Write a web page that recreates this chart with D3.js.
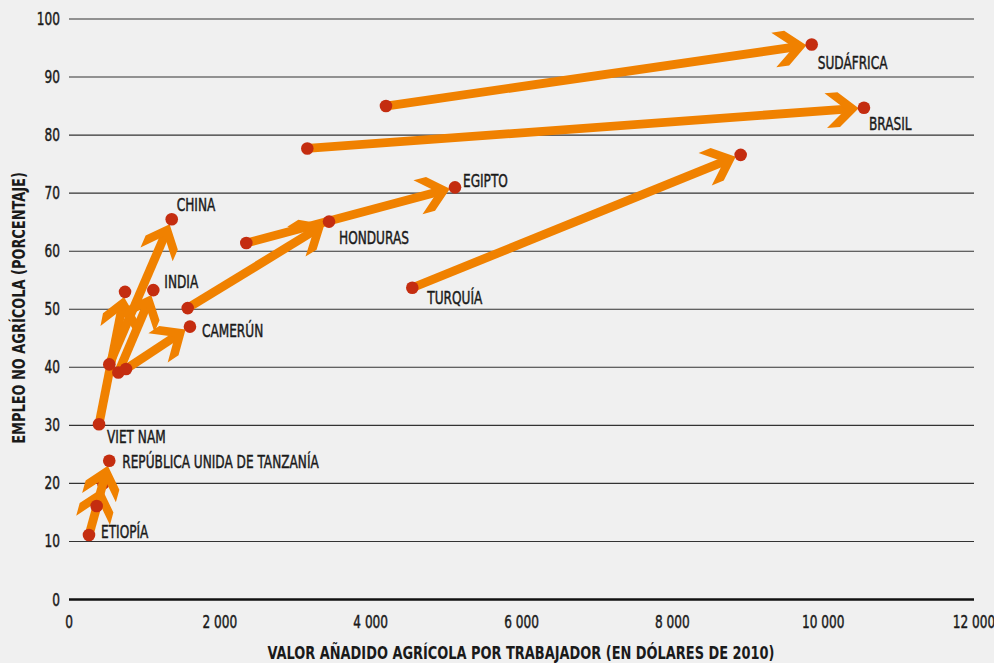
<!DOCTYPE html>
<html>
<head>
<meta charset="utf-8">
<script src="https://cdn.jsdelivr.net/npm/d3@7"></script>
<style>
    body { margin: 0; background: #f0f0f0; }
    svg { display: block; font-family: "Liberation Sans Narrow", "DejaVu Sans Condensed", sans-serif; }
    .thick { stroke: #1a1a1a; stroke-width: 0.45px; }
</style>
</head>
<body>
<div id="chart"></div>
<script>

// country names as printed, and which end of the arrow carries the name
const countries = ["ETIOPÍA", "REPÚBLICA UNIDA DE TANZANÍA", "VIET NAM", "CHINA", "INDIA", "CAMERÚN",
    "EGIPTO", "HONDURAS", "TURQUÍA", "BRASIL", "SUDÁFRICA"];
const labelAt = ["start", "end", "start", "end", "end", "end", "end", "end", "start", "end", "end"];

// agricultural value added per worker (2010 USD), first and last year
const valueStart = [265, 367, 398, 534, 654, 756, 2351, 1574, 4552, 3160, 4203];
const valueEnd = [455, 534, 743, 1362, 1118, 1604, 5118, 3448, 8906, 10541, 9848];

// non-agricultural employment (%), first and last year
const shareStart = [11.1, 16.1, 30.2, 40.5, 39.1, 39.7, 61.4, 50.2, 53.7, 77.7, 85.0];
const shareEnd = [20.0, 23.9, 53.0, 65.5, 53.3, 47.0, 71.0, 65.1, 76.6, 84.7, 95.6];

const xTicks = [0, 2000, 4000, 6000, 8000, 10000, 12000];
const yTicks = [0, 10, 20, 30, 40, 50, 60, 70, 80, 90, 100];

// label nudges from the labelled dot (px)
const labelOffsets = {
    "ETIOPÍA": [12, 3], "REPÚBLICA UNIDA DE TANZANÍA": [13, 7], "VIET NAM": [8, 19],
    "CHINA": [5, -8], "INDIA": [11, -2], "CAMERÚN": [12, 10], "EGIPTO": [8, 0],
    "HONDURAS": [10, 22], "TURQUÍA": [15, 16], "BRASIL": [5, 22], "SUDÁFRICA": [6, 24]
};


class ArrowChart {

    constructor(_parentElement) {
        this.parentElement = _parentElement;
        this.initVis();
    }

    initVis() {
        let vis = this;

        vis.width = 994;
        vis.height = 663;
        vis.squeeze = 0.75;      // narrow the regular text
        vis.squeezeBold = 0.80;  // and the bold titles

        vis.svg = d3.select("#" + vis.parentElement).append("svg")
            .attr("width", vis.width)
            .attr("height", vis.height);

        vis.x = d3.scaleLinear().domain([0, 12000]).range([69, 974]);
        vis.y = d3.scaleLinear().domain([0, 100]).range([599.5, 19]);

        // gridlines
        vis.svg.append("g").selectAll("line")
            .data(yTicks)
            .enter().append("line")
            .attr("x1", vis.x(0))
            .attr("x2", vis.x(12000))
            .attr("y1", d => vis.y(d))
            .attr("y2", d => vis.y(d))
            .attr("stroke", d => d === 0 ? "#111" : "#333")
            .attr("stroke-width", d => d === 0 ? 2.6 : 1.1);

        // tick labels
        let fmt = d => d3.format(",")(d).replace(/,/g, " ");

        vis.svg.append("g").selectAll("text")
            .data(yTicks)
            .enter().append("text")
            .attr("class", "thick")
            .attr("transform", d => `translate(60,${vis.y(d) + 6}) scale(${vis.squeeze},1)`)
            .attr("text-anchor", "end")
            .attr("font-size", 18)
            .attr("fill", "#1a1a1a")
            .text(d => d);

        vis.svg.append("g").selectAll("text")
            .data(xTicks)
            .enter().append("text")
            .attr("class", "thick")
            .attr("transform", d => `translate(${vis.x(d)},628) scale(${vis.squeeze},1)`)
            .attr("text-anchor", "middle")
            .attr("font-size", 18)
            .attr("fill", "#1a1a1a")
            .text(fmt);

        // axis titles
        vis.svg.append("text")
            .attr("transform", `translate(521,659) scale(${vis.squeezeBold},1)`)
            .attr("text-anchor", "middle")
            .attr("font-size", 18)
            .attr("font-weight", "bold")
            .attr("fill", "#1a1a1a")
            .text("VALOR AÑADIDO AGRÍCOLA POR TRABAJADOR (EN DÓLARES DE 2010)");

        vis.svg.append("text")
            .attr("transform", `translate(25,308) rotate(-90) scale(${vis.squeezeBold},1)`)
            .attr("text-anchor", "middle")
            .attr("font-size", 18)
            .attr("font-weight", "bold")
            .attr("fill", "#1a1a1a")
            .text("EMPLEO NO AGRÍCOLA (PORCENTAJE)");

        vis.arrowGroup = vis.svg.append("g");
        vis.labelGroup = vis.svg.append("g");

        vis.wrangleData();
    }

    wrangleData() {
        let vis = this;

        vis.displayData = countries.map((c, i) => ({
            country: c,
            labelAt: labelAt[i],
            x0: valueStart[i], y0: shareStart[i],
            x1: valueEnd[i], y1: shareEnd[i]
        }));

        vis.updateVis();
    }

    updateVis() {
        let vis = this;

        let r = 6.3;          // dot radius
        let L = 20, W = 17.5, t = 13;   // chevron length, half width, arm thickness

        let chevron = `M${-r + 1},0 L${-r + 1 - L},${-W} L${-r + 1 - L - t},${-W} L${-r + 1 - t},0 ` +
            `L${-r + 1 - L - t},${W} L${-r + 1 - L},${W} Z`;

        let arrows = vis.arrowGroup.selectAll(".arrow")
            .data(vis.displayData)
            .enter().append("g")
            .attr("class", "arrow");

        arrows.each(function (d) {
            let g = d3.select(this);
            let sx = vis.x(d.x0), sy = vis.y(d.y0);
            let ex = vis.x(d.x1), ey = vis.y(d.y1);
            let ang = Math.atan2(ey - sy, ex - sx);
            let back = r + 8;

            g.append("line")
                .attr("x1", sx).attr("y1", sy)
                .attr("x2", ex - back * Math.cos(ang))
                .attr("y2", ey - back * Math.sin(ang))
                .attr("stroke", "#f08100")
                .attr("stroke-width", 8.8);

            g.append("path")
                .attr("d", chevron)
                .attr("fill", "#f08100")
                .attr("transform", `translate(${ex},${ey}) rotate(${ang * 180 / Math.PI})`);

            g.selectAll("circle")
                .data([[sx, sy], [ex, ey]])
                .enter().append("circle")
                .attr("cx", p => p[0])
                .attr("cy", p => p[1])
                .attr("r", r)
                .attr("fill", "#c42d10");
        });

        vis.labelGroup.selectAll("text")
            .data(vis.displayData)
            .enter().append("text")
            .attr("class", "thick")
            .attr("transform", d => {
                let px = d.labelAt === "start" ? vis.x(d.x0) : vis.x(d.x1);
                let py = d.labelAt === "start" ? vis.y(d.y0) : vis.y(d.y1);
                let o = labelOffsets[d.country];
                return `translate(${px + o[0]},${py + o[1]}) scale(${vis.squeeze},1)`;
            })
            .attr("font-size", 18)
            .attr("fill", "#1a1a1a")
            .text(d => d.country);
    }
}

new ArrowChart("chart");

</script>
</body>
</html>
